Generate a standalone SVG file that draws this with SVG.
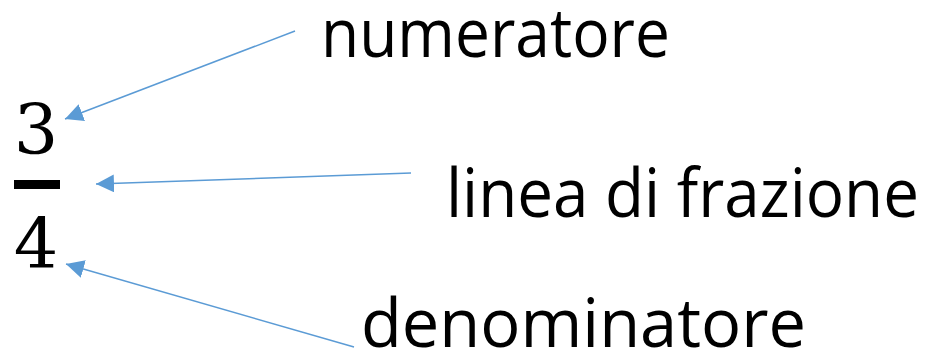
<svg xmlns="http://www.w3.org/2000/svg" width="930" height="357" viewBox="0 0 930 357">
  <style>
    .digit { font-family: "DejaVu Serif", "Liberation Serif", serif; font-size: 70px; fill: #000; text-anchor: middle; }
    .label { font-family: "Open Sans", "Liberation Sans", sans-serif; font-size: 68px; fill: #000; }
    .conn { stroke: #5B9BD5; stroke-width: 1.5; fill: none; marker-end: url(#head); }
  </style>
  <defs>
    <marker id="head" markerUnits="userSpaceOnUse" markerWidth="18" markerHeight="18" viewBox="0 0 16 16" refX="16" refY="8" orient="auto">
      <path d="M0,0 L16,8 L0,16 Z" fill="#5B9BD5"/>
    </marker>
  </defs>
  <rect width="930" height="357" fill="#fff"/>

  <!-- the fraction 3/4 -->
  <g id="fraction">
    <text class="digit" x="36" y="154">3</text>
    <rect x="14" y="180" width="46" height="9" fill="#000"/>
    <text class="digit" x="36" y="268">4</text>
  </g>

  <g id="numeratore">
    <text class="label" x="321" y="57" textLength="349" lengthAdjust="spacingAndGlyphs">numeratore</text>
  </g>
  <g id="linea">
    <text class="label" x="446" y="217" textLength="473" lengthAdjust="spacingAndGlyphs">linea di frazione</text>
  </g>
  <g id="denominatore">
    <text class="label" x="361" y="347" textLength="445" lengthAdjust="spacingAndGlyphs">denominatore</text>
  </g>

  <!-- pointers from each label to its part of the fraction -->
  <g id="connectors">
    <line class="conn" x1="295" y1="31" x2="65" y2="119"/>
    <line class="conn" x1="411" y1="173" x2="96" y2="184"/>
    <line class="conn" x1="354" y1="347" x2="66" y2="264"/>
  </g>
</svg>
